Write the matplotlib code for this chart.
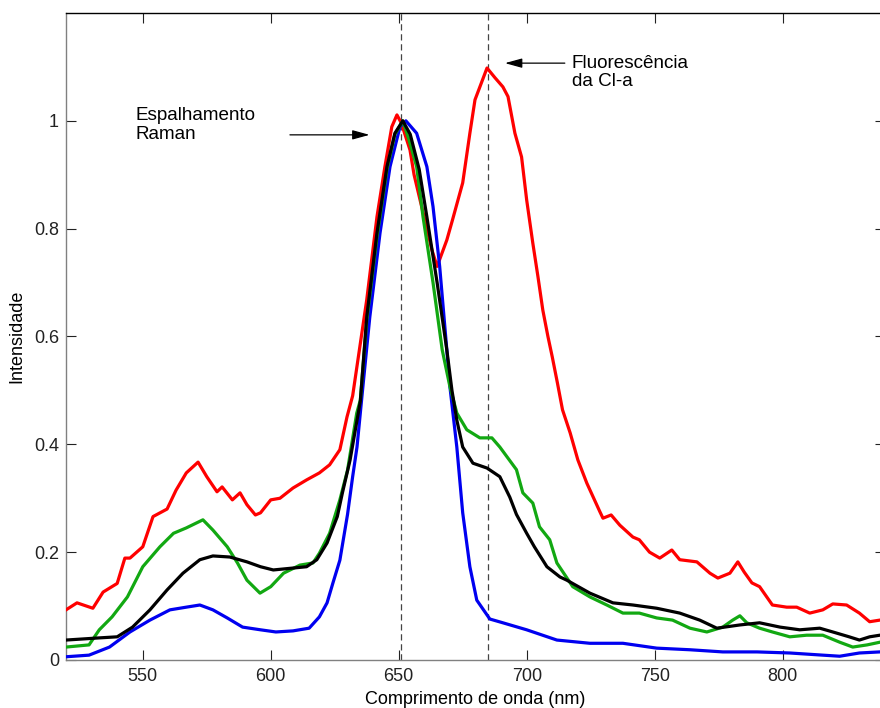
import matplotlib
matplotlib.use("Agg")
import matplotlib.pyplot as plt

plt.rcParams['font.family'] = ['Liberation Sans', 'DejaVu Sans']

# Wavelength (nm) / normalised intensity
red_x = [520, 524.3, 530.5, 534.5, 540, 543, 545, 550, 554, 559.5, 563, 567, 571.6, 575, 579, 581, 585, 588,
         590.7, 594, 596, 600, 603.6, 608.7, 614, 619, 623, 627, 629.8, 632, 637.5, 641.5, 644.6, 647.3, 649.3,
         651, 654.4, 656, 660, 663, 665, 668.8, 671, 675, 677.8, 679.8, 684.5, 687.6, 690.7, 692.7, 695.4, 698,
         700, 702.4, 704.4, 706.3, 708.3, 710, 712, 714, 717, 720, 723.5, 728.6, 729.8, 733, 736.4, 741.5, 744,
         748, 752, 756.7, 759.8, 766.5, 771.6, 774.7, 779.4, 782.5, 785, 788, 791, 796, 801.6, 805.5, 810.6,
         815.7, 819.6, 825, 830, 834, 838, 840]
red_y = [0.093, 0.106, 0.096, 0.126, 0.142, 0.189, 0.189, 0.21, 0.266, 0.28, 0.315, 0.347, 0.367, 0.34, 0.312,
         0.321, 0.297, 0.31, 0.288, 0.269, 0.273, 0.297, 0.30, 0.319, 0.334, 0.347, 0.362, 0.39, 0.451, 0.49,
         0.668, 0.822, 0.915, 0.989, 1.011, 0.996, 0.946, 0.9, 0.82, 0.76, 0.73, 0.779, 0.816, 0.885, 0.977,
         1.039, 1.098, 1.08, 1.063, 1.045, 0.977, 0.933, 0.853, 0.773, 0.711, 0.649, 0.6, 0.562, 0.514, 0.464,
         0.421, 0.371, 0.328, 0.275, 0.263, 0.269, 0.25, 0.228, 0.223, 0.2, 0.189, 0.204, 0.186, 0.182, 0.161,
         0.152, 0.161, 0.182, 0.163, 0.143, 0.136, 0.102, 0.098, 0.098, 0.087, 0.093, 0.104, 0.102, 0.087,
         0.071, 0.074, 0.074]

green_x = [520, 529, 533, 538, 544, 550, 556.7, 562, 567, 573.5, 577.4, 583, 587, 590.7, 595.8, 600, 605, 611.4,
           616.5, 619, 623, 627, 630, 633.6, 635, 637.5, 641.5, 645.4, 648.5, 651.6, 654, 657, 659.5, 663.4, 667,
           670, 672.7, 676.6, 681.7, 686.4, 689.5, 696, 698.5, 702.4, 705, 709, 711.8, 718, 724.7, 731.3, 737.6,
           744, 750.8, 757, 763.8, 770.4, 776.6, 780.5, 783.3, 786, 791, 796, 802.8, 809.4, 815.7, 822.3, 827.4,
           833, 838, 840]
green_y = [0.024, 0.028, 0.056, 0.08, 0.117, 0.173, 0.21, 0.235, 0.245, 0.26, 0.241, 0.21, 0.18, 0.148, 0.124,
           0.136, 0.161, 0.176, 0.18, 0.198, 0.235, 0.297, 0.352, 0.458, 0.482, 0.63, 0.785, 0.91, 0.975, 1.0,
           0.965, 0.915, 0.822, 0.7, 0.575, 0.507, 0.458, 0.427, 0.412, 0.412, 0.395, 0.353, 0.31, 0.291, 0.247,
           0.223, 0.18, 0.136, 0.117, 0.102, 0.087, 0.087, 0.078, 0.074, 0.059, 0.052, 0.061, 0.074, 0.082,
           0.069, 0.059, 0.052, 0.043, 0.046, 0.046, 0.033, 0.024, 0.028, 0.033, 0.035]

black_x = [520, 533, 540, 546, 552.8, 559.5, 565.7, 572.3, 577.4, 584, 590.7, 596, 601, 607.5, 614, 618, 622, 626,
           628, 631, 635, 637.5, 641.5, 645.4, 648.5, 651.6, 654.5, 658, 661, 665, 668.8, 670.8, 672.7, 675, 679,
           684.5, 689.5, 693.4, 696, 700, 703, 707.9, 713, 715.7, 724.7, 733.7, 741.5, 750.8, 759.8, 767.6,
           774.3, 783.3, 791, 799, 806.7, 814.5, 819.6, 826, 830, 834, 838, 840]
black_y = [0.037, 0.041, 0.043, 0.061, 0.093, 0.13, 0.161, 0.186, 0.193, 0.191, 0.182, 0.173, 0.167, 0.17, 0.173,
           0.186, 0.217, 0.266, 0.31, 0.371, 0.48, 0.636, 0.792, 0.915, 0.977, 1.0, 0.975, 0.91, 0.822, 0.7,
           0.575, 0.5, 0.445, 0.395, 0.365, 0.356, 0.34, 0.302, 0.27, 0.235, 0.21, 0.173, 0.154, 0.148, 0.124,
           0.106, 0.102, 0.096, 0.087, 0.074, 0.059, 0.065, 0.069, 0.061, 0.056, 0.059, 0.052, 0.043, 0.037,
           0.043, 0.046, 0.046]

blue_x = [520, 529, 537, 545, 552.8, 560.6, 567, 572.3, 577.4, 583, 589, 596, 602, 608.7, 615, 619, 622, 624.3,
          627, 630, 632, 633.7, 636, 638.7, 642.7, 646.6, 650.5, 652.8, 657, 661, 663.4, 666, 668.8, 670, 672.7,
          675, 677.8, 680.5, 685.6, 690.7, 700, 711.8, 724.7, 737.6, 750.8, 763.8, 776.6, 790, 802.8, 815.7,
          822.3, 830, 838, 840]
blue_y = [0.006, 0.009, 0.024, 0.052, 0.074, 0.093, 0.098, 0.102, 0.093, 0.078, 0.061, 0.056, 0.052, 0.054,
          0.059, 0.08, 0.106, 0.143, 0.185, 0.27, 0.34, 0.395, 0.507, 0.636, 0.792, 0.915, 0.989, 1.0, 0.977,
          0.915, 0.841, 0.73, 0.575, 0.507, 0.395, 0.273, 0.173, 0.111, 0.076, 0.069, 0.056, 0.037, 0.031,
          0.031, 0.022, 0.019, 0.015, 0.015, 0.013, 0.009, 0.007, 0.013, 0.015, 0.015]

raman_line = 651
fluor_line = 685

x_ticks = [550, 600, 650, 700, 750, 800]
y_ticks = [0, 0.2, 0.4, 0.6, 0.8, 1]
y_ticklabels = ['0', '0.2', '0.4', '0.6', '0.8', '1']

fig = plt.figure(figsize=(8.8, 7.08), dpi=100)
ax = fig.add_axes([66 / 880, 48 / 708, 819 / 880, 647 / 708])

lw = 2.3
ax.plot(red_x, red_y, color='#ff0000', lw=lw, zorder=3)
ax.plot(blue_x, blue_y, color='#0000f0', lw=lw, zorder=4)
ax.plot(green_x, green_y, color='#12a812', lw=lw, zorder=5)
ax.plot(black_x, black_y, color='black', lw=lw, zorder=6)

for xv in (raman_line, fluor_line):
    ax.axvline(xv, color='#444444', lw=0.9, ls=(0, (5, 3)), zorder=2)

ax.set_xlim(520, 840)
ax.set_ylim(0, 1.2)
ax.set_xticks(x_ticks)
ax.set_yticks(y_ticks)
ax.set_yticklabels(y_ticklabels)
ax.tick_params(direction='in', length=7, width=0.8, top=True, right=True,
               labelsize=13, pad=6, colors='#222222')
ax.tick_params(axis='y', pad=5)
for side in ('left', 'bottom'):
    ax.spines[side].set_color('#808080')
    ax.spines[side].set_linewidth(1.0)
ax.spines['top'].set_color('black')
ax.spines['top'].set_linewidth(1.0)
ax.spines['right'].set_visible(False)

ax.set_xlabel('Comprimento de onda (nm)', fontsize=13, labelpad=4)
ax.set_ylabel('Intensidade', fontsize=13, labelpad=6)

arrow_kw = dict(arrowstyle='-|>,head_length=0.8,head_width=0.22', color='black', lw=0.9,
                shrinkA=0, shrinkB=0, mutation_scale=13)
ax.annotate('', xy=(638.6, 0.974), xytext=(607.5, 0.974), arrowprops=arrow_kw)
ax.annotate('', xy=(691.5, 1.107), xytext=(714.9, 1.107), arrowprops=arrow_kw)

ax.text(547, 0.992, 'Espalhamento\nRaman', fontsize=13.6, ha='left', va='center', linespacing=1.12)
ax.text(717.7, 1.09, 'Fluorescência\nda Cl-a', fontsize=13.6, ha='left', va='center', linespacing=1.12)

fig.savefig('out.png', dpi=100)
